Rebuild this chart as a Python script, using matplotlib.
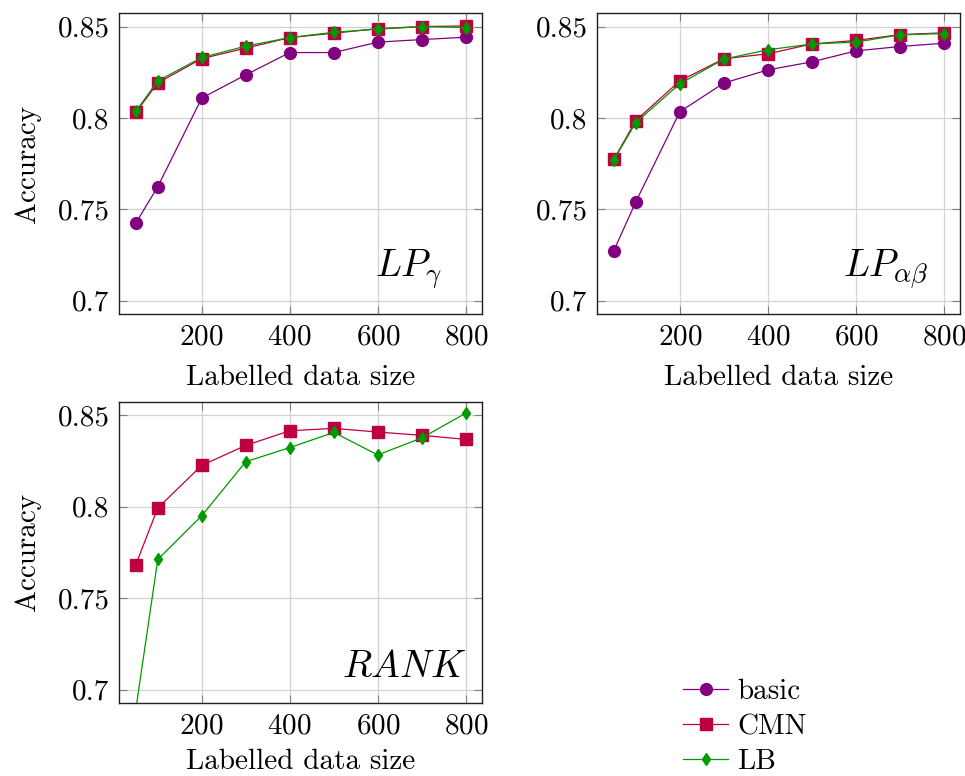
import matplotlib
matplotlib.use('Agg')
import matplotlib.pyplot as plt

plt.rcParams['font.family'] = 'cmr10'
plt.rcParams['mathtext.fontset'] = 'cm'
plt.rcParams['axes.unicode_minus'] = False
plt.rcParams['axes.formatter.use_mathtext'] = True

sizes = [50, 100, 200, 300, 400, 500, 600, 700, 800]

# LP_gamma
lpg_basic = [0.7424, 0.7624, 0.8109, 0.8236, 0.8358, 0.8358, 0.8415, 0.8429, 0.8442]
lpg_cmn = [0.8030, 0.8192, 0.8325, 0.8382, 0.8440, 0.8464, 0.8489, 0.8500, 0.8504]
lpg_lb = [0.8036, 0.8203, 0.8331, 0.8393, 0.8440, 0.8469, 0.8486, 0.8500, 0.8495]

# LP_alpha_beta
lpab_basic = [0.7274, 0.7541, 0.8034, 0.8191, 0.8263, 0.8307, 0.8367, 0.8391, 0.8409]
lpab_cmn = [0.7773, 0.7986, 0.8203, 0.8324, 0.8351, 0.8405, 0.8424, 0.8456, 0.8466]
lpab_lb = [0.7770, 0.7975, 0.8187, 0.8322, 0.8373, 0.8405, 0.8415, 0.8455, 0.8462]

# RANK (no basic run)
rank_cmn = [0.7682, 0.7992, 0.8225, 0.8334, 0.8414, 0.8427, 0.8407, 0.8389, 0.8367]
rank_lb = [0.6890, 0.7711, 0.7950, 0.8245, 0.8322, 0.8405, 0.8282, 0.8375, 0.8510]

c_basic = '#800080'
c_cmn = '#bf0040'
c_lb = '#009900'

FS = 21

fig = plt.figure(figsize=(9.65, 7.76), dpi=100)
ax1 = fig.add_axes([0.1236, 0.5954, 0.3762, 0.3875])
ax2 = fig.add_axes([0.6190, 0.5954, 0.3762, 0.3875])
ax3 = fig.add_axes([0.1236, 0.0941, 0.3762, 0.3883])


def draw(ax, basic, cmn, lb, label_y=-0.17):
    if basic is not None:
        ax.plot(sizes, basic, color=c_basic, marker='o', markersize=8.5,
                linewidth=0.9, label='basic')
    ax.plot(sizes, cmn, color=c_cmn, marker='s', markersize=8,
            linewidth=0.9, label='CMN')
    ax.plot(sizes, lb, color=c_lb, marker='d', markersize=6,
            linewidth=0.9, label='LB')
    ax.set_xlim(12.5, 837.5)
    ax.set_ylim(0.6927, 0.8573)
    ax.set_xticks([200, 400, 600, 800])
    ax.set_yticks([0.7, 0.75, 0.8, 0.85])
    ax.set_yticklabels(['0.7', '0.75', '0.8', '0.85'])
    ax.grid(True, color='#d3d3d3', linewidth=0.9)
    ax.set_axisbelow(True)
    ax.tick_params(direction='in', length=6, width=0.8, color='#808080',
                   top=True, right=True, labelsize=FS, pad=7)
    for s in ax.spines.values():
        s.set_linewidth(1.0)
        s.set_color('#202020')
    ax.set_xlabel('Labelled data size', fontsize=FS)
    ax.xaxis.set_label_coords(0.5, label_y)


draw(ax1, lpg_basic, lpg_cmn, lpg_lb)
draw(ax2, lpab_basic, lpab_cmn, lpab_lb)
# bottom row label kept a little higher so it stays inside the figure
draw(ax3, None, rank_cmn, rank_lb, label_y=-0.152)

for ax in (ax1, ax3):
    ax.set_ylabel('Accuracy', fontsize=FS)
    ax.yaxis.set_label_coords(-0.215, 0.5)

ax1.text(0.888, 0.124, r'$LP_\gamma$', transform=ax1.transAxes,
         fontsize=27.5, ha='right', va='baseline')
ax2.text(0.912, 0.124, r'$LP_{\alpha\beta}$', transform=ax2.transAxes,
         fontsize=27.5, ha='right', va='baseline')
ax3.text(0.957, 0.087, r'$RANK$', transform=ax3.transAxes,
         fontsize=27.5, ha='right', va='baseline')

# legend sits in the empty fourth cell
fig.legend(ax1.get_lines(), ['basic', 'CMN', 'LB'], loc='center left',
           bbox_to_anchor=(0.708, 0.063), frameon=False, fontsize=FS,
           borderpad=0, borderaxespad=0,
           handlelength=1.55, handletextpad=0.3, labelspacing=0.3)

fig.savefig('out.png', dpi=100)
